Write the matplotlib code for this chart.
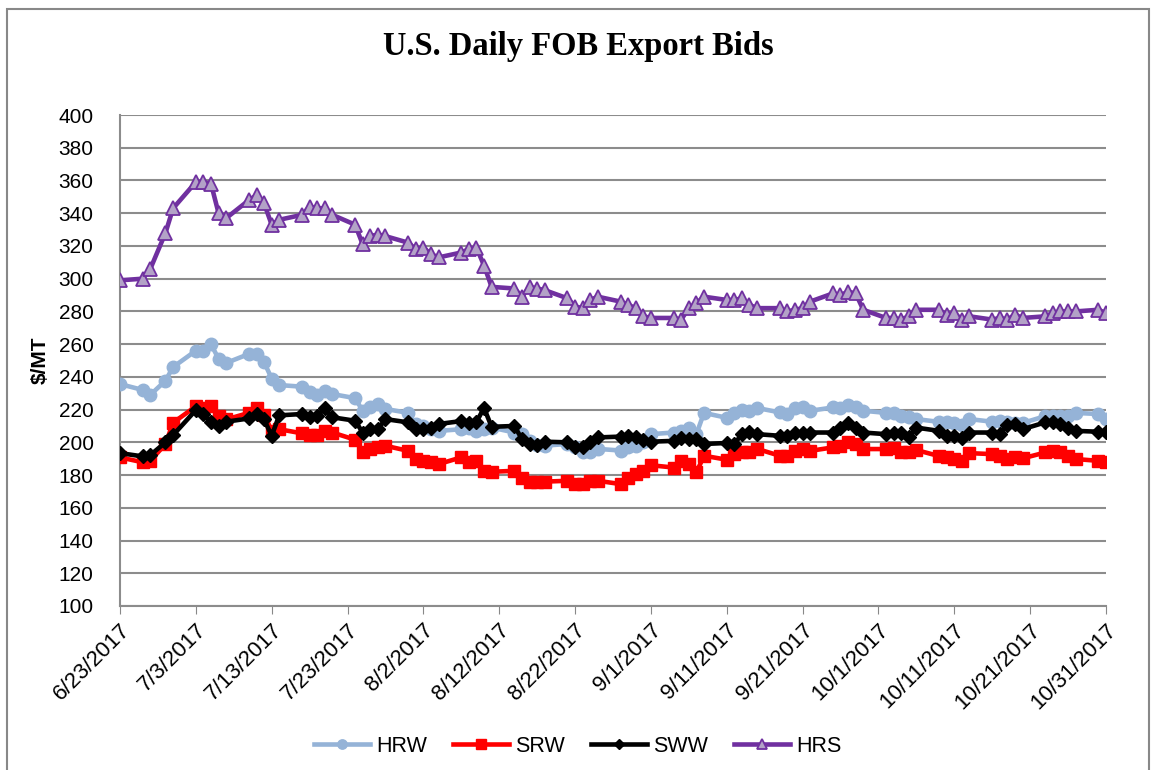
import numpy as np
import pandas as pd
import matplotlib
matplotlib.use("Agg")
import matplotlib.pyplot as plt
from matplotlib.patches import Rectangle

# Trading days shown in the chart (2017)
dates = ["6/23", "6/26", "6/27", "6/29", "6/30", "7/3", "7/4", "7/5", "7/6", "7/7",
         "7/10", "7/11", "7/12", "7/13", "7/14",
         "7/17", "7/18", "7/19", "7/20", "7/21", "7/24", "7/25", "7/26", "7/27", "7/28",
         "7/31", "8/1", "8/2", "8/3", "8/4",
         "8/7", "8/8", "8/9", "8/10", "8/11", "8/14", "8/15", "8/16", "8/17", "8/18",
         "8/21", "8/22", "8/23", "8/24", "8/25",
         "8/28", "8/29", "8/30", "8/31", "9/1", "9/4", "9/5", "9/6", "9/7", "9/8",
         "9/11", "9/12", "9/13", "9/14", "9/15",
         "9/18", "9/19", "9/20", "9/21", "9/22", "9/25", "9/26", "9/27", "9/28", "9/29",
         "10/2", "10/3", "10/4", "10/5", "10/6",
         "10/9", "10/10", "10/11", "10/12", "10/13", "10/16", "10/17", "10/18", "10/19", "10/20",
         "10/23", "10/24", "10/25", "10/26", "10/27", "10/30", "10/31"]

hrw = [235.6, 232, 229, 237.7, 246, 256, 256, 260, 251, 248.5, 254, 254, 249, 239, 235,
       234, 230.5, 229, 231.5, 229.5, 227, 219.3, 221.3, 223.4, 220.4, 218, 211, 210, 208, 207,
       208, 209, 207, 208, 209, 206, 205, 201, 198.4, 198, 199, 197, 194.3, 194.3, 196,
       195, 197, 198, 200, 205, 206, 207, 209, 205, 218, 215, 218, 220, 219, 221,
       218.3, 217.3, 220.7, 221.3, 219.3, 221.3, 220.7, 222.8, 221.3, 219.3, 218, 218, 216.3, 215.3, 214.2,
       212.5, 212.2, 211.8, 210.6, 214.2, 212.6, 213.2, 212.2, 212, 211.8, 216, 216.3, 216, 216.3, 218, 217.3, 214.2]

srw = [190.8, 187.8, 188.7, 199, 212, 222, 221, 222, 216, 214, 218, 221, 217, 207, 208,
       205.5, 204.5, 204.5, 207, 206, 201.6, 194.3, 195.9, 196.9, 197.9, 194.8, 189.8, 188.7, 187.7, 186.7,
       190.8, 187.7, 188.7, 182.6, 182, 182.6, 178.5, 175.5, 175.5, 176, 176.5, 174.5, 174.5, 176.5, 176.5,
       174.5, 178.5, 180.6, 182.6, 186, 184.6, 188.7, 186.7, 181.6, 191.8, 189.4, 192.8, 194, 194.3, 196,
       191.8, 191.8, 194.8, 195.9, 194.8, 196.9, 197.9, 200, 199, 195.9, 195.9, 196.3, 193.8, 193.8, 195.3,
       191.6, 190.8, 189.8, 188.7, 193.4, 192.8, 191.8, 189.8, 190.8, 190.2, 193.8, 194.8, 193.8, 191.8, 189.8, 188.7, 187.7]

sww = [193.4, 191.4, 192.2, 200, 204.4, 219.7, 217.3, 212.6, 210.2, 212.6, 214.6, 217.3, 214, 204, 216.5,
       217.3, 215.3, 216.3, 220.7, 215.3, 213.2, 206, 208, 208, 214.2, 212.2, 208, 208, 209, 211.2,
       213, 212, 212.5, 221, 209.5, 210, 202, 199, 198.4, 200.4, 200, 197, 197, 200.4, 203,
       203.5, 204, 203.5, 201.6, 200.4, 200.9, 202.4, 202, 202, 199, 199.6, 199, 205, 206.5, 205,
       204, 204, 206, 206, 206, 206, 209, 211.8, 209, 206, 205, 206, 206, 203, 209,
       207, 204, 203.6, 202.4, 206, 206, 205, 210.6, 211.2, 208, 212.2, 212.6, 211.2, 209, 207, 206.5, 206.5]

hrs = [299, 300, 306, 328, 343, 359, 359, 358, 340, 337, 348, 351, 346, 333, 336,
       339, 344, 343, 343, 339, 333, 321, 326, 327, 326, 322, 318, 319, 315, 313,
       316, 318, 319, 308, 295, 294, 289, 295, 294, 293, 288, 283, 282, 287, 289,
       286, 284, 282, 277, 276, 276, 275, 282, 285, 289, 287, 287, 288, 284, 282,
       282, 280, 281, 282, 286, 291, 290, 292, 291, 281, 276, 276, 275, 277, 281,
       281, 278, 279, 275, 277, 275, 276, 275, 278, 276, 277, 279, 280, 280, 280, 281, 279]

x = pd.to_datetime([d + "/2017" for d in dates], format="%m/%d/%Y")

plt.rcParams['font.family'] = ['Liberation Sans', 'DejaVu Sans']

fig = plt.figure(figsize=(11.56, 7.70), dpi=100)
ax = fig.add_axes([0.1038, 0.2130, 0.8529, 0.6376])

ax.plot(x, hrw, color="#95B3D7", lw=3.3, marker="o", ms=9, label="HRW", zorder=3)
ax.plot(x, srw, color="#FF0000", lw=3.3, marker="s", ms=9, label="SRW", zorder=4)
ax.plot(x, sww, color="#000000", lw=3.3, marker="D", ms=7, label="SWW", zorder=5)
ax.plot(x, hrs, color="#7030A0", lw=3.3, marker="^", ms=10, mfc="#B3A2C7",
        mec="#7030A0", mew=1.3, label="HRS", zorder=6)

ax.set_ylim(100, 400)
ax.set_yticks(np.arange(100, 401, 20))
ax.set_xlim(pd.Timestamp("2017-06-23"), pd.Timestamp("2017-10-31"))
ticks = pd.date_range("2017-06-23", "2017-10-31", freq="10D")
ax.set_xticks(ticks)
ax.set_xticklabels([f"{t.month}/{t.day}/{t.year}" for t in ticks], rotation=45,
                   ha="right", rotation_mode="anchor", fontsize=16)
ax.tick_params(axis="y", length=0, labelsize=15, pad=19)
ax.tick_params(axis="x", length=6, color="#888888", pad=4)

ax.grid(axis="y", color="#8c8c8c", lw=1.5)
ax.set_axisbelow(True)
for s in ["top", "right"]:
    ax.spines[s].set_visible(False)
for s in ["left", "bottom"]:
    ax.spines[s].set_color("#8c8c8c")
    ax.spines[s].set_linewidth(1.5)

ax.set_ylabel("$/MT", fontsize=15, fontweight="bold", labelpad=6)

fig.text(0.5, 0.939, "U.S. Daily FOB Export Bids", ha="center", va="center",
         fontsize=23.5, fontweight="bold", family="Liberation Serif")

fig.legend(loc="center", bbox_to_anchor=(0.5, 0.031), ncol=4, frameon=False,
           fontsize=15.5, handlelength=2.6, columnspacing=1.2, handletextpad=0.3,
           markerscale=0.75)

fig.patches.append(Rectangle((0.006, -0.01), 0.988, 0.998, transform=fig.transFigure,
                             fill=False, ec="#888888", lw=1.5))

fig.savefig("out.png", dpi=100)
